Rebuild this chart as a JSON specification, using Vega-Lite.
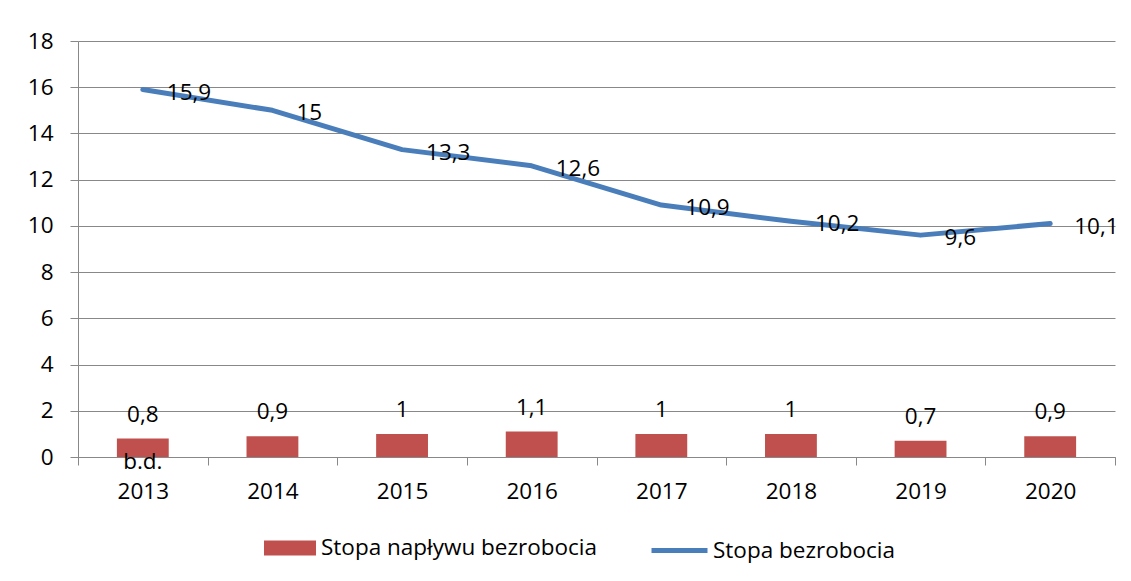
{
  "$schema": "https://vega.github.io/schema/vega-lite/v6.json",
  "width": 1037,
  "height": 416,
  "autosize": "none",
  "padding": {"left": 78, "top": 41, "right": 16, "bottom": 124},
  "background": "white",
  "config": {
    "font": "Open Sans",
    "locale": {"number": {"decimal": ",", "thousands": " ", "grouping": [3], "currency": ["", " zł"]}},
    "view": {"stroke": null},
    "axis": {
      "domainColor": "#888888",
      "tickColor": "#888888",
      "gridColor": "#888888",
      "labelColor": "#000000",
      "labelFontSize": 22.5,
      "labelFont": "Open Sans",
      "title": null
    },
    "legend": {
      "labelFontSize": 22.5,
      "labelFont": "Open Sans",
      "labelColor": "#000000",
      "labelLimit": 0,
      "title": null,
      "orient": "none"
    }
  },
  "data": {
    "values": [
      {"rok": "2013", "naplyw": 0.8, "stopa": 15.9, "uwaga": "b.d."},
      {"rok": "2014", "naplyw": 0.9, "stopa": 15.0, "uwaga": ""},
      {"rok": "2015", "naplyw": 1.0, "stopa": 13.3, "uwaga": ""},
      {"rok": "2016", "naplyw": 1.1, "stopa": 12.6, "uwaga": ""},
      {"rok": "2017", "naplyw": 1.0, "stopa": 10.9, "uwaga": ""},
      {"rok": "2018", "naplyw": 1.0, "stopa": 10.2, "uwaga": ""},
      {"rok": "2019", "naplyw": 0.7, "stopa": 9.6, "uwaga": ""},
      {"rok": "2020", "naplyw": 0.9, "stopa": 10.1, "uwaga": ""}
    ]
  },
  "encoding": {
    "x": {
      "field": "rok",
      "type": "nominal",
      "scale": {"paddingInner": 0, "paddingOuter": 0},
      "axis": {
        "labelAngle": 0,
        "tickBand": "extent",
        "tickSize": 8,
        "labelPadding": 15,
        "grid": false
      }
    }
  },
  "layer": [
    {
      "mark": {"type": "bar", "width": {"band": 0.4}},
      "encoding": {
        "y": {
          "field": "naplyw",
          "type": "quantitative",
          "scale": {"domain": [0, 18], "nice": false},
          "axis": {
            "values": [0, 2, 4, 6, 8, 10, 12, 14, 16, 18],
            "grid": true,
            "tickSize": 8,
            "labelPadding": 17
          }
        },
        "fill": {
          "datum": "Stopa napływu bezrobocia",
          "type": "nominal",
          "scale": {"range": ["#C0504D"]},
          "legend": {
            "legendX": 186,
            "legendY": 481,
            "symbolType": "M-1,-0.29H1V0.29H-1Z",
            "symbolSize": 2704,
            "symbolStrokeWidth": 0,
            "symbolOpacity": 1,
            "labelOffset": 5
          }
        }
      }
    },
    {
      "mark": {"type": "text", "baseline": "middle", "dy": -24, "fontSize": 22.5, "color": "#000000"},
      "encoding": {
        "y": {"field": "naplyw", "type": "quantitative"},
        "text": {"field": "naplyw", "type": "quantitative", "format": ".1~f"}
      }
    },
    {
      "mark": {"type": "text", "baseline": "middle", "dy": 5, "fontSize": 22.5, "color": "#000000"},
      "encoding": {
        "y": {"datum": 0, "type": "quantitative"},
        "text": {"field": "uwaga", "type": "nominal"}
      }
    },
    {
      "mark": {"type": "line", "strokeWidth": 5, "strokeCap": "round", "strokeJoin": "round"},
      "encoding": {
        "y": {"field": "stopa", "type": "quantitative"},
        "stroke": {
          "datum": "Stopa bezrobocia",
          "type": "nominal",
          "scale": {"range": ["#4A7EBB"]},
          "legend": {
            "legendX": 571,
            "legendY": 479,
            "symbolType": "stroke",
            "symbolSize": 3136,
            "symbolStrokeWidth": 5,
            "labelOffset": 3
          }
        }
      }
    },
    {
      "mark": {"type": "text", "align": "left", "baseline": "middle", "dx": 24, "dy": 3, "fontSize": 22.5, "color": "#000000"},
      "encoding": {
        "y": {"field": "stopa", "type": "quantitative"},
        "text": {"field": "stopa", "type": "quantitative", "format": ".1~f"}
      }
    }
  ]
}
